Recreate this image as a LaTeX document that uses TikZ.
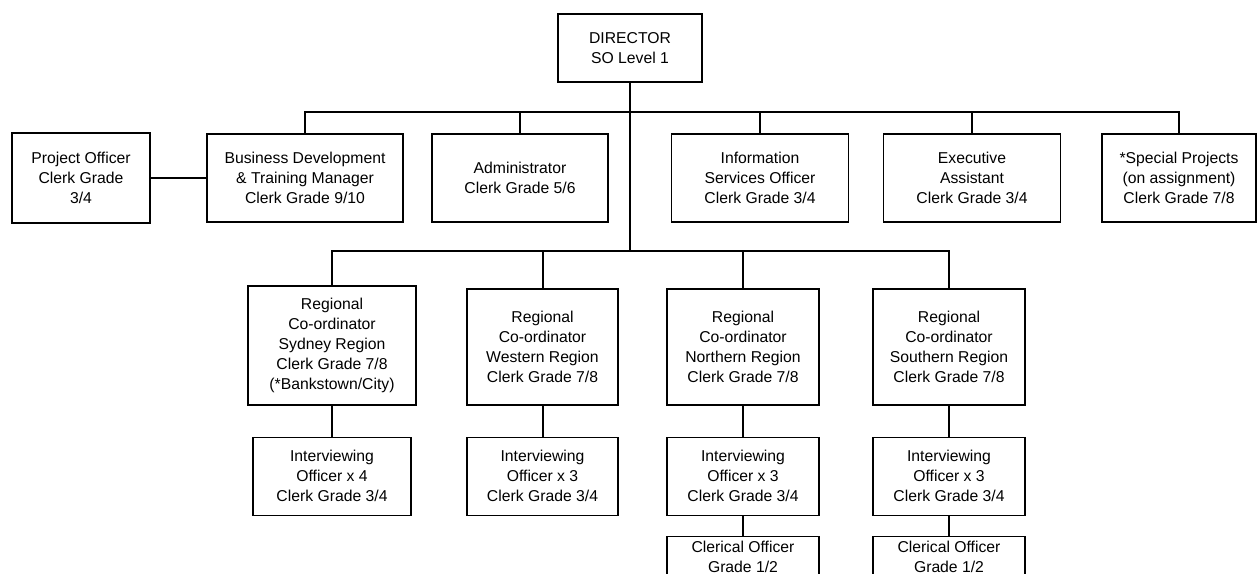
\documentclass[tikz,border=0pt]{standalone}
\usepackage{fontspec}
\setmainfont{Liberation Sans}
\usepackage{tikz}
\usetikzlibrary{positioning}
\tikzstyle{post}=[rectangle, draw=black, line width=1pt, align=center, inner sep=0pt, font=\fontsize{11.8}{15}\selectfont]
\tikzstyle{link}=[line width=1.5pt]
\tikzset{boxsize/.style 2 args={minimum width=#1*0.75pt, minimum height=#2*0.75pt}}

\begin{document}
\begin{tikzpicture}[x=0.75pt, y=-0.75pt]
        \clip (0,0) rectangle (1258,574);

        \node (director)[post, boxsize={144}{68}] at (630,48) {DIRECTOR\\SO Level 1};

        \node (project)[post, boxsize={138}{90}] at (81,178) {Project Officer\\Clerk Grade\\3/4};
        \node (busdev)[post, boxsize={196}{88}] at (305,178) {Business Development\\\& Training Manager\\Clerk Grade 9/10};
        \node (admin)[post, boxsize={176}{88}] at (520,178) {Administrator\\Clerk Grade 5/6};
        \node (info)[post, boxsize={177}{88}] at (760,178) {Information\\Services Officer\\Clerk Grade 3/4};
        \node (exec)[post, boxsize={177}{88}] at (972,178) {Executive\\Assistant\\Clerk Grade 3/4};
        \node (special)[post, boxsize={154}{88}] at (1179,178) {*Special Projects\\(on assignment)\\Clerk Grade 7/8};

        \node (sydney)[post, boxsize={168}{119}] at (332,345.5) {Regional\\Co-ordinator\\Sydney Region\\Clerk Grade 7/8\\(*Bankstown/City)};
        \node (western)[post, boxsize={151}{116}] at (542.5,347) {Regional\\Co-ordinator\\Western Region\\Clerk Grade 7/8};
        \node (northern)[post, boxsize={152}{116}] at (743,347) {Regional\\Co-ordinator\\Northern Region\\Clerk Grade 7/8};
        \node (southern)[post, boxsize={152}{116}] at (949,347) {Regional\\Co-ordinator\\Southern Region\\Clerk Grade 7/8};

        \node (intsydney)[post, boxsize={158}{78}, below=23.25pt of sydney] {Interviewing\\Officer x 4\\Clerk Grade 3/4};
        \node (intwestern)[post, boxsize={151}{78}, below=23.25pt of western] {Interviewing\\Officer x 3\\Clerk Grade 3/4};
        \node (intnorthern)[post, boxsize={152}{78}, below=23.25pt of northern] {Interviewing\\Officer x 3\\Clerk Grade 3/4};
        \node (intsouthern)[post, boxsize={152}{78}, below=23.25pt of southern] {Interviewing\\Officer x 3\\Clerk Grade 3/4};

        \node (clerknorthern)[post, boxsize={152}{40}, below=15pt of intnorthern] {Clerical Officer\\Grade 1/2};
        \node (clerksouthern)[post, boxsize={152}{40}, below=15pt of intsouthern] {Clerical Officer\\Grade 1/2};

        \coordinate (topbus) at (630,112);
        \coordinate (lowbus) at (630,251);

        \draw [link] (director.south) -- (lowbus);
        \draw [link] (busdev.north) |- (topbus) -| (special.north);
        \foreach \n in {admin, info, exec}{
            \draw [link] (\n.north) -- (\n.north |- topbus);
        };
        \draw [link] (project) -- (busdev);

        \draw [link] (sydney.north) |- (lowbus) -| (southern.north);
        \foreach \n in {western, northern}{
            \draw [link] (\n.north) -- (\n.north |- lowbus);
        };
        \foreach \n in {sydney, western, northern, southern}{
            \draw [link] (\n.south) -- (int\n.north);
        };
        \draw [link] (intnorthern.south) -- (clerknorthern.north);
        \draw [link] (intsouthern.south) -- (clerksouthern.north);

    \end{tikzpicture}
\end{document}
